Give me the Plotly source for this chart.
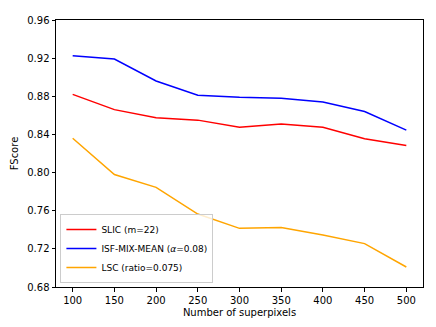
import plotly.graph_objects as go

# superpixel counts
n_superpixels = [100, 150, 200, 250, 300, 350, 400, 450, 500]

# FScore per method
slic = [0.882, 0.866, 0.8575, 0.855, 0.8475, 0.851, 0.8475, 0.8355, 0.8285]
isf_mix_mean = [0.9225, 0.919, 0.896, 0.881, 0.879, 0.878, 0.874, 0.864, 0.8445]
lsc = [0.836, 0.798, 0.7845, 0.7565, 0.7415, 0.7425, 0.7345, 0.7255, 0.701]

y_ticks = [0.68, 0.72, 0.76, 0.80, 0.84, 0.88, 0.92, 0.96]

fig = go.Figure()

fig.add_trace(go.Scatter(x=n_superpixels, y=slic, mode='lines',
                         name='SLIC (m=22)', line=dict(color='#ff0000', width=1.5)))
fig.add_trace(go.Scatter(x=n_superpixels, y=isf_mix_mean, mode='lines',
                         name='ISF-MIX-MEAN (<i>α</i>=0.08)', line=dict(color='#0000ff', width=1.5)))
fig.add_trace(go.Scatter(x=n_superpixels, y=lsc, mode='lines',
                         name='LSC (ratio=0.075)', line=dict(color='#ffa500', width=1.5)))

# page body adds ~8px offset, margins compensate for it
fig.update_layout(
    width=436,
    height=327,
    margin=dict(l=43, r=21, t=6, b=48),
    plot_bgcolor='white',
    paper_bgcolor='white',
    font=dict(family='DejaVu Sans', size=10, color='black'),
    legend=dict(
        x=0.012, y=0.015, xanchor='left', yanchor='bottom',
        bordercolor='#cccccc', borderwidth=1, bgcolor='rgba(255,255,255,0.8)',
        font=dict(size=9), tracegroupgap=0, itemwidth=30,
    ),
)

fig.update_xaxes(
    title=dict(text='Number of superpixels', standoff=4, font=dict(size=10)),
    range=[80, 520], tickvals=n_superpixels,
    showgrid=False, zeroline=False,
    showline=True, linecolor='black', linewidth=1, mirror=True,
    ticks='outside', ticklen=3.5, tickcolor='black',
)
fig.update_yaxes(
    title=dict(text='FScore', standoff=6, font=dict(size=10)),
    range=[0.68, 0.96], tickvals=y_ticks, tickformat='.2f',
    showgrid=False, zeroline=False,
    showline=True, linecolor='black', linewidth=1, mirror=True,
    ticks='outside', ticklen=3.5, tickcolor='black',
)

fig.write_html("out.html")
